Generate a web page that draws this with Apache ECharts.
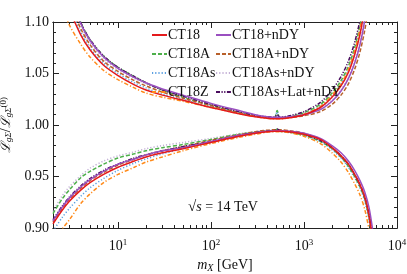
<!DOCTYPE html>
<html><head><meta charset="utf-8">
<script src="https://cdn.jsdelivr.net/npm/echarts@6/dist/echarts.min.js"></script>
<style>html,body{margin:0;padding:0;background:#fff}#c{width:407px;height:274px}</style>
</head><body><div id="c"></div>
<script>
// m_X sample points [GeV]
const M = [2, 2.5, 3, 4, 5, 7, 10, 15, 20, 30, 50, 100, 200, 300, 400, 480, 515, 550, 700, 1000, 1500, 2000, 2500, 3000, 3500, 4000, 4500, 5000, 5500];

// lower edges
const CT18_lo        = [0.904,0.917,0.926,0.937,0.944,0.952,0.959,0.965,0.969,0.973,0.977,0.983,0.989,0.992,0.9935,0.994,0.994,0.994,0.9935,0.991,0.986,0.978,0.970,0.962,0.952,0.942,0.930,0.912,0.885];
const CT18nDY_lo     = [0.907,0.920,0.929,0.940,0.947,0.955,0.962,0.967,0.971,0.975,0.978,0.984,0.990,0.9925,0.994,0.9945,0.9945,0.9945,0.994,0.992,0.987,0.980,0.973,0.965,0.956,0.946,0.935,0.920,0.897];
const CT18A_lo       = [0.914,0.928,0.937,0.949,0.955,0.962,0.968,0.972,0.975,0.978,0.981,0.986,0.991,0.993,0.994,0.9945,0.996,0.994,0.993,0.990,0.984,0.977,0.969,0.960,0.950,0.940,0.928,0.910,0.884];
const CT18AnDY_lo    = [0.906,0.919,0.928,0.939,0.946,0.954,0.961,0.967,0.971,0.975,0.979,0.985,0.9905,0.9935,0.995,0.9955,0.9955,0.9955,0.9945,0.992,0.986,0.978,0.970,0.962,0.952,0.942,0.930,0.913,0.887];
const CT18As_lo      = [0.897,0.910,0.919,0.931,0.939,0.948,0.956,0.963,0.967,0.972,0.977,0.983,0.989,0.992,0.9935,0.994,0.995,0.994,0.993,0.990,0.984,0.976,0.968,0.959,0.949,0.939,0.926,0.908,0.882];
const CT18AsnDY_lo   = [0.916,0.931,0.940,0.951,0.958,0.965,0.970,0.974,0.977,0.980,0.983,0.987,0.9915,0.9935,0.9945,0.995,0.995,0.995,0.994,0.991,0.985,0.977,0.969,0.960,0.951,0.941,0.929,0.911,0.885];
const CT18Z_lo       = [0.888,0.899,0.908,0.924,0.933,0.944,0.952,0.959,0.964,0.969,0.975,0.982,0.988,0.991,0.993,0.9935,0.9935,0.9935,0.9925,0.989,0.982,0.973,0.964,0.954,0.943,0.932,0.918,0.898,0.870];
const CT18AsLat_lo   = [0.908,0.921,0.930,0.941,0.948,0.956,0.962,0.968,0.971,0.975,0.979,0.984,0.990,0.9925,0.994,0.9945,0.996,0.9945,0.9935,0.991,0.985,0.978,0.970,0.962,0.952,0.942,0.930,0.913,0.887];

// upper edges
const CT18_hi        = [1.160,1.130,1.112,1.087,1.073,1.058,1.048,1.039,1.034,1.029,1.024,1.017,1.011,1.008,1.0065,1.006,1.006,1.006,1.007,1.010,1.017,1.027,1.038,1.051,1.068,1.088,1.115,1.150,1.200];
const CT18nDY_hi     = [1.180,1.150,1.130,1.098,1.082,1.066,1.055,1.046,1.041,1.035,1.029,1.021,1.014,1.010,1.008,1.0075,1.0075,1.0075,1.008,1.010,1.015,1.023,1.033,1.045,1.060,1.078,1.102,1.140,1.190];
const CT18A_hi       = [1.180,1.150,1.130,1.099,1.083,1.067,1.056,1.047,1.041,1.034,1.027,1.019,1.012,1.009,1.0075,1.007,1.014,1.007,1.008,1.012,1.020,1.031,1.043,1.057,1.075,1.097,1.125,1.160,1.200];
const CT18AnDY_hi    = [1.170,1.140,1.120,1.093,1.078,1.062,1.052,1.043,1.038,1.032,1.026,1.019,1.012,1.009,1.0075,1.007,1.007,1.007,1.0075,1.009,1.013,1.020,1.029,1.040,1.054,1.071,1.092,1.118,1.160];
const CT18As_hi      = [1.165,1.135,1.115,1.090,1.075,1.060,1.050,1.041,1.036,1.030,1.025,1.018,1.0115,1.0085,1.007,1.0065,1.013,1.0065,1.0075,1.011,1.018,1.029,1.040,1.053,1.070,1.091,1.118,1.155,1.200];
const CT18AsnDY_hi   = [1.175,1.145,1.125,1.096,1.080,1.064,1.054,1.045,1.040,1.034,1.028,1.020,1.013,1.0095,1.008,1.0075,1.0075,1.0075,1.008,1.010,1.016,1.024,1.034,1.046,1.061,1.080,1.105,1.140,1.190];
const CT18Z_hi       = [1.140,1.115,1.097,1.078,1.066,1.053,1.044,1.036,1.031,1.027,1.023,1.017,1.011,1.008,1.0065,1.006,1.006,1.006,1.007,1.0105,1.018,1.029,1.040,1.054,1.072,1.093,1.120,1.160,1.200];
const CT18AsLat_hi   = [1.180,1.150,1.130,1.099,1.083,1.067,1.056,1.047,1.041,1.034,1.028,1.020,1.013,1.0095,1.008,1.0075,1.010,1.0075,1.009,1.013,1.022,1.034,1.047,1.062,1.080,1.102,1.130,1.170,1.200];

const X_MAJOR = [10, 100, 1000, 10000];
const X_MINOR = [2,3,4,5,6,7,8,9,20,30,40,50,60,70,80,90,200,300,400,500,600,700,800,900,2000,3000,4000,5000,6000,7000,8000,9000];

const LEG1 = ['CT18','CT18A','CT18As','CT18Z'];
const LEG2 = ['CT18+nDY','CT18A+nDY','CT18As+nDY','CT18As+Lat+nDY'];

const SER = [
  {name:'CT18As+nDY', lo:CT18AsnDY_lo, hi:CT18AsnDY_hi, color:'#c3b0d6', type:[1.2,2]},
  {name:'CT18As', lo:CT18As_lo, hi:CT18As_hi, color:'#5b9fe0', type:[1.2,2]},
  {name:'CT18A', lo:CT18A_lo, hi:CT18A_hi, color:'#4daf4a', type:[4,2]},
  {name:'CT18A+nDY', lo:CT18AnDY_lo, hi:CT18AnDY_hi, color:'#b8602a', type:[4,2]},
  {name:'CT18Z', lo:CT18Z_lo, hi:CT18Z_hi, color:'#ff8a1a', type:[4,2,1.2,2]},
  {name:'CT18As+Lat+nDY', lo:CT18AsLat_lo, hi:CT18AsLat_hi, color:'#4a0d5e', type:[4,1.5,1.2,1.5,1.2,1.5]},
  {name:'CT18+nDY', lo:CT18nDY_lo, hi:CT18nDY_hi, color:'#9a4fc0', type:'solid'},
  {name:'CT18', lo:CT18_lo, hi:CT18_hi, color:'#e41a1c', type:'solid'}
];

const series = [];
SER.forEach(s => {
  [s.lo, s.hi].forEach(arr => {
    series.push({
      name: s.name, type:'line', xAxisIndex:0, yAxisIndex:0,
      data: M.map((m,i)=>[m, arr[i]]),
      showSymbol:false, symbol:'none', smooth:0.3,
      lineStyle:{color:s.color, width:1.5, type:s.type},
      itemStyle:{color:s.color},
      clip:true, animation:false
    });
  });
});

const serif = 'Liberation Serif, DejaVu Serif, serif';
const axisLine = {show:true, lineStyle:{color:'#222', width:1}};
function xAx(pos, vals, len, labels){
  return {
    type:'log', logBase:10, min:2, max:10000, position:pos,
    axisLine: axisLine,
    axisTick:{show:true, inside:true, length:len, customValues:vals, lineStyle:{color:'#222'}},
    axisLabel: labels ? {show:true, customValues:X_MAJOR, margin:10, color:'#111', fontFamily:serif, fontSize:14,
      formatter:v=>{const e=Math.round(Math.log10(v)); return '{b|10}{s|'+e+'}';},
      rich:{b:{fontFamily:serif,fontSize:14,color:'#111'}, s:{fontFamily:serif,fontSize:9,color:'#111',verticalAlign:'top',padding:[0,0,8,0]}}} : {show:false},
    splitLine:{show:false}, minorTick:{show:false}
  };
}
const xAxes = [xAx('bottom', X_MAJOR, 6, true), xAx('bottom', X_MINOR, 3, false), xAx('top', X_MAJOR, 6, false), xAx('top', X_MINOR, 3, false)];
xAxes[0].name = '{i|m}{sub|X} [GeV]';
xAxes[0].nameLocation = 'middle';
xAxes[0].nameGap = 29;
xAxes[0].nameTextStyle = {fontFamily:serif, fontSize:14, color:'#111',
  rich:{i:{fontFamily:serif,fontStyle:'italic',fontSize:14,color:'#111'}, sub:{fontFamily:serif,fontStyle:'italic',fontSize:10,color:'#111',padding:[6,0,0,0]}}};

function yAx(pos, labels){
  return {
    type:'value', min:0.9, max:1.1, interval:0.05, position:pos,
    axisLine: axisLine,
    axisTick:{show:true, inside:true, length:6, lineStyle:{color:'#222'}},
    minorTick:{show:true, splitNumber:5, length:3, lineStyle:{color:'#222'}},
    axisLabel: labels ? {show:true, margin:4, color:'#111', fontFamily:serif, fontSize:14, formatter:v=>v.toFixed(2)} : {show:false},
    splitLine:{show:false}
  };
}
const yAxes = [yAx('left', true), yAx('right', false)];
yAxes[0].name = '{L|ℒ}{s|gΣ}{n|/}{L|ℒ}{s|gΣ}{p|(0)}';
yAxes[0].nameLocation = 'middle';
yAxes[0].nameGap = 27;
yAxes[0].nameRotate = 90;
yAxes[0].nameTextStyle = {rich:{
  L:{fontFamily:'DejaVu Serif, serif', fontStyle:'italic', fontSize:13, color:'#111'},
  n:{fontFamily:serif, fontSize:14, color:'#111'},
  s:{fontFamily:serif, fontStyle:'italic', fontSize:9, color:'#111', padding:[5,0,0,0]},
  p:{fontFamily:serif, fontSize:9, color:'#111', padding:[0,0,6,0]}
}};

const legendBase = {orient:'vertical', top:23, itemWidth:15, itemHeight:10, itemGap:5,
  itemStyle:{opacity:0, borderWidth:0},
  textStyle:{fontFamily:serif, fontSize:14, color:'#111', lineHeight:14, padding:[0,0,0,-4]},
  selectedMode:false, backgroundColor:'transparent'};

const chart = echarts.init(document.getElementById('c'), null, {renderer:'canvas'});
chart.setOption({
  animation:false,
  backgroundColor:'#fff',
  grid:{left:53, right:10, top:22, bottom:46, containLabel:false, outerBoundsMode:'none'},
  xAxis: xAxes,
  yAxis: yAxes,
  legend:[Object.assign({}, legendBase, {left:146, data:LEG1}), Object.assign({}, legendBase, {left:210, data:LEG2})],
  graphic:[{type:'text', left:188, top:200, style:{
    text:'{r|√}{i|s}{n| = 14 TeV}', rich:{
      r:{fontFamily:serif, fontSize:15, fill:'#111'},
      i:{fontFamily:serif, fontStyle:'italic', fontSize:14, fill:'#111', textDecoration:'overline'},
      n:{fontFamily:serif, fontSize:14, fill:'#111'}}}}],
  series: series
});
</script></body></html>
